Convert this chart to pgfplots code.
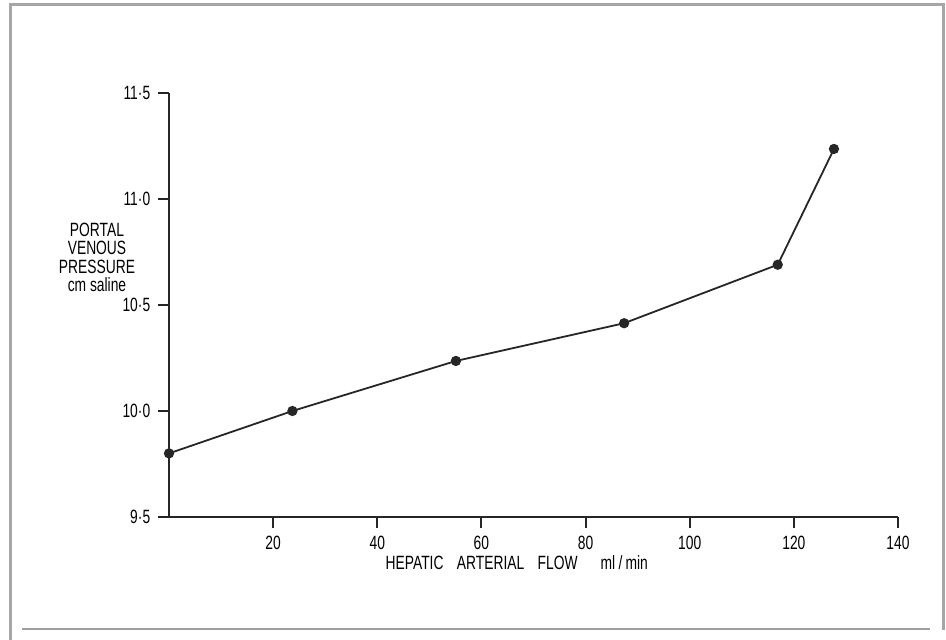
\documentclass[border=0pt]{standalone}
\usepackage{fontspec}
\setmainfont{Liberation Sans}[FakeStretch=0.72]
\usepackage{pgfplots}
\pgfplotsset{compat=1.18}
\begin{document}
\fontsize{9.6}{9.25}\selectfont
\begin{tikzpicture}[x=0.5pt,y=0.5pt]
\path[use as bounding box] (0,0) rectangle (946,640);
% page frame
\draw[line width=1.5pt, gray!70] (10,0) -- (10,635) -- (943,635) -- (943,10);
\draw[line width=1.2pt, gray!75] (22,11) -- (930,11);
\begin{axis}[
  at={(84.5pt,61.5pt)}, anchor=south west,
  scale only axis, width=364.5pt, height=212pt,
  xmin=0, xmax=140, ymin=9.5, ymax=11.5,
  axis lines*=left,
  axis line style={-, line width=1.2pt, black!85},
  tick align=outside,
  major tick length=5.5pt,
  tick style={line width=1pt, black!85},
  xtick={20,40,60,80,100,120,140},
  xticklabels={20,40,60,80,100,120,140},
  ytick={9.5,10,10.5,11,11.5},
  yticklabels={9·5,10·0,10·5,11·0,11·5},
  xticklabel style={yshift=-0.5pt},
  yticklabel style={xshift=-0.5pt},
  xlabel={HEPATIC\hspace{0.7em}ARTERIAL\hspace{0.7em}FLOW\hspace{1.2em}ml\,/\,min},
  xlabel style={at={(axis description cs:0.477,0)}, anchor=center, yshift=-23pt},
]
\addplot[black!85, line width=0.9pt, mark=*, mark size=2.1pt, mark options={fill=black!85}]
coordinates {
  (0,9.80) (23.7,10.00) (55.1,10.236) (87.4,10.414) (116.9,10.69) (127.7,11.236)
};
\end{axis}
\node[align=center, inner sep=0pt] at (97,382.5) {PORTAL\\VENOUS\\PRESSURE\\cm saline};
\end{tikzpicture}
\end{document}
